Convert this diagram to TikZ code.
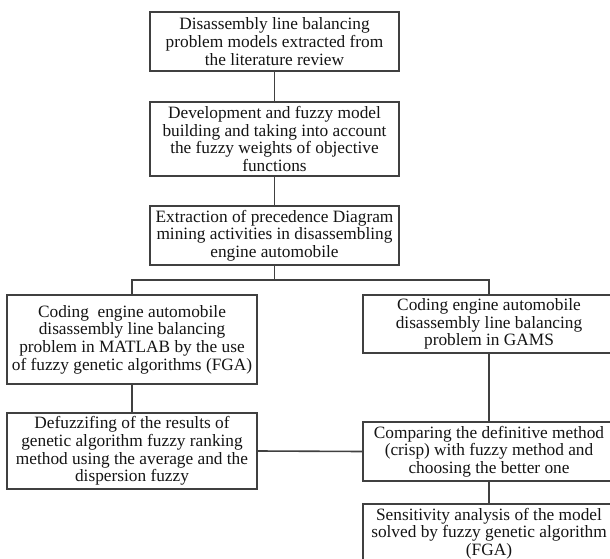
\documentclass[tikz,border=0pt]{standalone}
\usepackage{fontspec}
\setmainfont{Liberation Serif}
\definecolor{boxgray}{HTML}{404040}
\definecolor{txtgray}{HTML}{141414}
\tikzset{
  stepbox/.style={draw=boxgray, line width=1.8bp, inner sep=0pt, align=center,
    text=txtgray, font=\fontsize{17.3bp}{17.6bp}\selectfont},
  link/.style={draw=boxgray, line width=1.6bp}
}
\begin{document}
\begin{tikzpicture}[x=1bp,y=-1bp]
\useasboundingbox (0,0) rectangle (610,559);
\clip (0,0) rectangle (610,559);
\fill[white] (0,0) rectangle (610,559);
\node[stepbox, minimum width=249bp, minimum height=59bp] (b1) at (274.5,41.5)
  {Disassembly line balancing\\problem models extracted from\\the literature review};
\node[stepbox, minimum width=249bp, minimum height=74bp] (b2) at (274.5,139)
  {Development and fuzzy model\\building and taking into account\\the fuzzy weights of objective\\functions};
\node[stepbox, minimum width=249bp, minimum height=59bp] (b3) at (274.5,235.5)
  {Extraction of precedence Diagram\\mining activities in disassembling\\engine automobile};
\node[stepbox, minimum width=250bp, minimum height=89bp] (lf) at (132,339.5)
  {Coding\ \ engine automobile\\disassembly line balancing\\problem in MATLAB by the use\\of fuzzy genetic algorithms (FGA)};
\node[stepbox, minimum width=252bp, minimum height=58bp] (rt) at (489,324)
  {Coding engine automobile\\disassembly line balancing\\problem in GAMS};
\node[stepbox, minimum width=250bp, minimum height=76bp] (df) at (132,451)
  {Defuzzifing of the results of\\genetic algorithm fuzzy ranking\\method using the average and the\\dispersion fuzzy};
\node[stepbox, minimum width=252bp, minimum height=59bp] (cp) at (489,451.5)
  {Comparing the definitive method\\(crisp) with fuzzy method and\\choosing the better one};
\node[stepbox, minimum width=252bp, minimum height=59bp] (sa) at (489,533.5)
  {Sensitivity analysis of the model\\solved by fuzzy genetic algorithm\\(FGA)};
\coordinate (jn) at (274.5,280);
\draw[link] (b1.south) -- (b2.north);
\draw[link] (b2.south) -- (b3.north);
\draw[link] (b3.south) -- (jn);
\draw[link] (jn) -| (lf.north);
\draw[link] (jn) -| (rt.north);
\draw[link] (lf.south) -- (df.north);
\draw[link] (rt.south) -- (cp.north);
\draw[link] (df.east) -- (cp.west);
\draw[link] (cp.south) -- (sa.north);
\end{tikzpicture}
\end{document}
